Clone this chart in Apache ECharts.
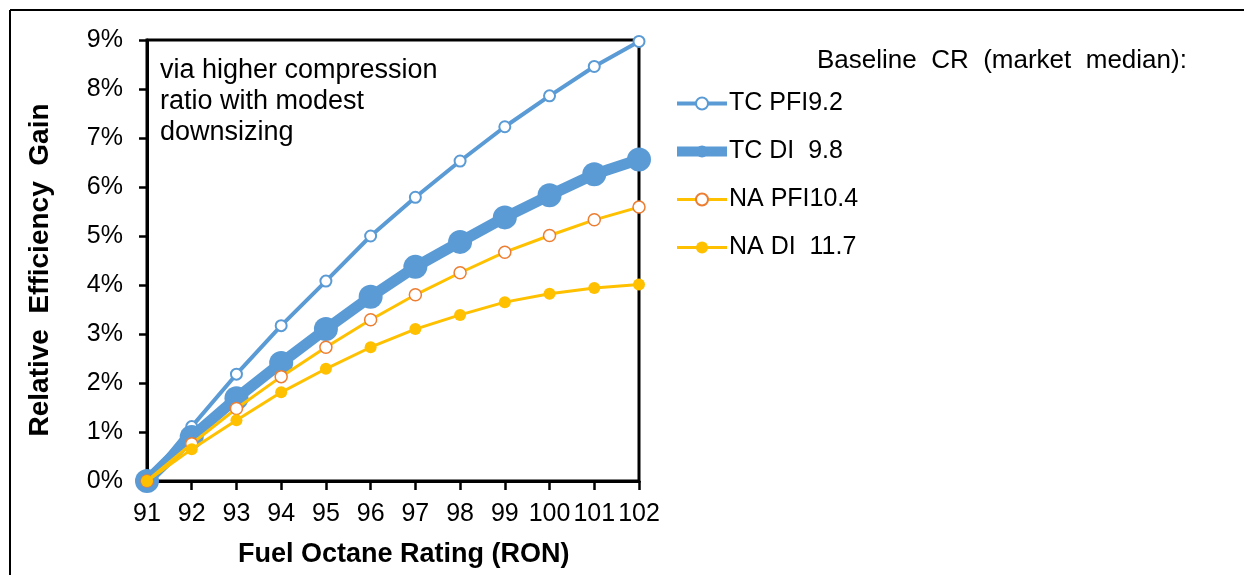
<!DOCTYPE html>
<html><head><meta charset="utf-8">
<script src="https://cdn.jsdelivr.net/npm/echarts@6/dist/echarts.min.js"></script>
<style>html,body{margin:0;padding:0;background:#fff}#c{width:1244px;height:575px}</style>
</head><body><div id="c"></div>
<script>
const categories = ['91','92','93','94','95','96','97','98','99','100','101','102'];
const tcPfi = [0, 1.11, 2.18, 3.17, 4.08, 5.0, 5.79, 6.53, 7.23, 7.86, 8.46, 8.97];
const tcDi  = [0, 0.9, 1.69, 2.41, 3.1, 3.76, 4.37, 4.88, 5.38, 5.83, 6.26, 6.56];
const naPfi = [0, 0.76, 1.48, 2.13, 2.73, 3.29, 3.8, 4.25, 4.67, 5.01, 5.33, 5.59];
const naDi  = [0, 0.65, 1.24, 1.81, 2.29, 2.73, 3.1, 3.39, 3.65, 3.82, 3.94, 4.01];
const seriesNames = ['TC PFI9.2', 'TC DI  9.8', 'NA PFI10.4', 'NA DI  11.7'];

const F = 'Liberation Sans, Arial, sans-serif';
const BLUE = '#5B9BD5', GOLD = '#FFC000', ORANGE = '#ED7D31';
const chart = echarts.init(document.getElementById('c'));
chart.setOption({
  animation: false,
  textStyle: {fontFamily: F},
  grid: {left: 147, top: 40, right: 605, bottom: 94, show: true, borderColor: '#000', borderWidth: 3, backgroundColor: 'transparent'},
  xAxis: {
    type: 'category', data: categories, boundaryGap: false,
    axisLine: {lineStyle: {color: '#000', width: 3}},
    axisTick: {show: true, length: 9, lineStyle: {color: '#000', width: 2.5}, alignWithLabel: true},
    axisLabel: {color: '#000', fontSize: 25, fontFamily: F, margin: 21, interval: 0},
    splitLine: {show: false}
  },
  yAxis: {
    type: 'value', min: 0, max: 9, interval: 1,
    axisLine: {show: true, lineStyle: {color: '#000', width: 3}},
    axisTick: {show: true, length: 8, lineStyle: {color: '#000', width: 2.5}},
    axisLabel: {color: '#000', fontSize: 25, fontFamily: F, margin: 24, formatter: v => v + '%'},
    splitLine: {show: false}
  },
  legend: {
    orient: 'vertical', left: 672, top: 91, padding: 0, itemGap: 23, itemWidth: 50, itemHeight: 15,
    textStyle: {color: '#000', fontSize: 25, fontFamily: F, padding: [0,0,0,-3]},
    data: [
      {name: seriesNames[0], lineStyle: {width: 4}},
      {name: seriesNames[1], lineStyle: {width: 10}},
      {name: seriesNames[2], lineStyle: {width: 3}},
      {name: seriesNames[3], lineStyle: {width: 3}}
    ]
  },
  graphic: [
    {type: 'line', shape: {x1: 10, y1: 10, x2: 1244, y2: 10}, style: {stroke: '#000', lineWidth: 2}},
    {type: 'line', shape: {x1: 10, y1: 10, x2: 10, y2: 575}, style: {stroke: '#000', lineWidth: 2}},
    {type: 'text', left: 817, top: 48, style: {text: 'Baseline  CR  (market  median):', font: '26px ' + F, fill: '#000'}},
    {type: 'text', left: 160, top: 55, style: {text: 'via higher compression\nratio with modest\ndownsizing', font: '27px ' + F, lineHeight: 31, fill: '#000'}},
    {type: 'text', left: 238, top: 541, style: {text: 'Fuel Octane Rating (RON)', font: 'bold 27px ' + F, fill: '#000'}},
    {type: 'text', x: 40, y: 270, rotation: Math.PI / 2,
     style: {text: 'Relative  Efficiency  Gain', font: 'bold 28px ' + F, fill: '#000', align: 'center', verticalAlign: 'middle'}}
  ],
  series: [
    {name: seriesNames[0], type: 'line', data: tcPfi, symbol: 'circle', symbolSize: 11,
     lineStyle: {color: BLUE, width: 4}, itemStyle: {color: '#fff', borderColor: BLUE, borderWidth: 2}, z: 2},
    {name: seriesNames[1], type: 'line', data: tcDi, symbol: 'circle', symbolSize: 24,
     lineStyle: {color: BLUE, width: 11}, itemStyle: {color: BLUE, borderColor: BLUE, borderWidth: 0}, z: 3},
    {name: seriesNames[2], type: 'line', data: naPfi, symbol: 'circle', symbolSize: 12,
     lineStyle: {color: GOLD, width: 3}, itemStyle: {color: '#fff', borderColor: ORANGE, borderWidth: 1.5}, z: 4},
    {name: seriesNames[3], type: 'line', data: naDi, symbol: 'circle', symbolSize: 12,
     lineStyle: {color: GOLD, width: 3}, itemStyle: {color: GOLD, borderColor: GOLD, borderWidth: 0}, z: 5}
  ]
});
</script></body></html>
